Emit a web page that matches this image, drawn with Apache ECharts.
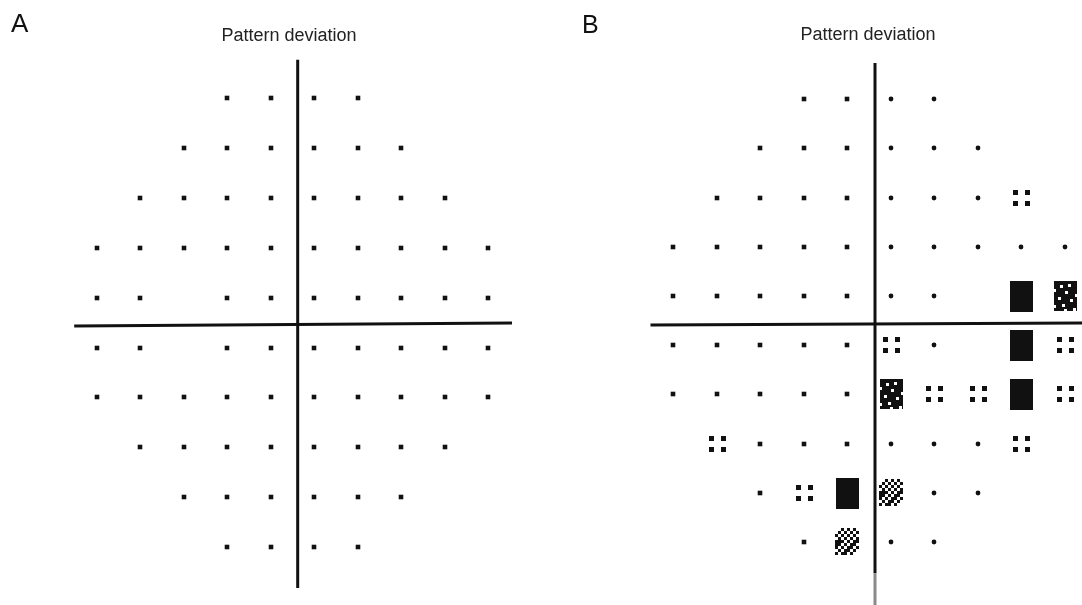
<!DOCTYPE html>
<html>
<head>
<meta charset="utf-8">
<script src="https://cdn.jsdelivr.net/npm/echarts@6/dist/echarts.min.js"></script>
<style>
  html, body { margin: 0; padding: 0; background: #fff; }
  #chart { width: 1082px; height: 605px; }
</style>
</head>
<body>
<div id="chart"></div>
<script>
// Test locations of the 10 x 10 grid, in degrees from fixation.
const X_DEG = [-27, -21, -15, -9, -3, 3, 9, 15, 21, 27];
const Y_DEG = [27, 21, 15, 9, 3, -3, -9, -15, -21, -27];

// Pattern deviation probability symbols per location, row by row (top to bottom).
// 0 = not significant, 1 = p < 5%, 2 = p < 2%, 3 = p < 1%, 4 = p < 0.5%, null = no test point.
const _ = null;
const ROWS_A = [
  [_, _, _, 0, 0, 0, 0, _, _, _],
  [_, _, 0, 0, 0, 0, 0, 0, _, _],
  [_, 0, 0, 0, 0, 0, 0, 0, 0, _],
  [0, 0, 0, 0, 0, 0, 0, 0, 0, 0],
  [0, 0, _, 0, 0, 0, 0, 0, 0, 0],
  [0, 0, _, 0, 0, 0, 0, 0, 0, 0],
  [0, 0, 0, 0, 0, 0, 0, 0, 0, 0],
  [_, 0, 0, 0, 0, 0, 0, 0, 0, _],
  [_, _, 0, 0, 0, 0, 0, 0, _, _],
  [_, _, _, 0, 0, 0, 0, _, _, _]
];
const ROWS_B = [
  [_, _, _, 0, 0, 0, 0, _, _, _],
  [_, _, 0, 0, 0, 0, 0, 0, _, _],
  [_, 0, 0, 0, 0, 0, 0, 0, 1, _],
  [0, 0, 0, 0, 0, 0, 0, 0, 0, 0],
  [0, 0, 0, 0, 0, 0, 0, _, 4, 3],
  [0, 0, 0, 0, 0, 1, 0, _, 4, 1],
  [0, 0, 0, 0, 0, 3, 1, 1, 4, 1],
  [_, 1, 0, 0, 0, 0, 0, 0, 1, _],
  [_, _, 0, 1, 4, 2, 0, 0, _, _],
  [_, _, _, 0, 2, 0, 0, _, _, _]
];

const PANEL_LETTERS = ['A', 'B'];
const PANEL_TITLES = ['Pattern deviation', 'Pattern deviation'];

// Meridian lines of each plot, in degrees: [x, y] end points.
const VERT_A = [[0.73, 31.6], [0.73, -31.9]];
const HORZ_A = [[-30.1, -0.42], [30.3, -0.06]];
const VERT_B = [[0.83, 31.4], [0.83, -30.8]];
const VERT_B_TAIL = [[0.83, -30.8], [0.83, -34.8]];
const HORZ_B = [[-30.1, -0.55], [30.6, -0.3]];

const FONT = '"Liberation Sans", Arial, Helvetica, sans-serif';
const INK = '#111';

// White gaps punched into the p < 1% block: [x, y] offsets in px from its top-left corner.
const DENSE_HOLES = [[6, 4], [14, 3], [11, 10], [4, 16], [16, 18], [8, 23],
  [-1, 8], [21, 13], [10, 28], [19, 27], [-1, 24]];

function toPoints(rows) {
  const out = [];
  rows.forEach((row, j) => row.forEach((v, i) => {
    if (v !== null) out.push([X_DEG[i], Y_DEG[j], v]);
  }));
  return out;
}

// Draws the grey-scale probability symbol for one location.
function makeRenderer(roundRightDots) {
  return function (params, api) {
    const xv = api.value(0);
    const code = api.value(2);
    const c = api.coord([xv, api.value(1)]);
    const cx = Math.round(c[0]), cy = Math.round(c[1]);
    const kids = [];
    const rect = (x0, y0, w, h, fill) => kids.push({
      type: 'rect', shape: { x: x0, y: y0, width: w, height: h }, style: { fill: fill || INK }
    });
    if (code === 0) {
      if (roundRightDots && xv > 0) {
        kids.push({ type: 'circle', shape: { cx: cx, cy: cy, r: 2.4 }, style: { fill: INK } });
      } else {
        rect(cx - 2.3, cy - 2.3, 4.6, 4.6);
      }
    } else if (code === 1) {
      [-6, 6].forEach(dx => [-6, 5].forEach(dy => rect(cx + dx - 2, cy + dy - 2, 5, 5)));
    } else if (code === 2) {
      const n = 8, m = 9, s = 3;
      const x0 = cx - 12, y0 = cy - 14;
      for (let i = 0; i < n; i++) {
        for (let j = 0; j < m; j++) {
          const band = Math.abs((i + 0.5) / n - (1 - (j + 0.5) / m));
          const edge = band > 0.3;
          if (band < 0.72 && (edge ? (i + j) % 3 !== 0 : (i + j) % 2 === 0)) rect(x0 + i * s, y0 + j * s, s, s);
        }
      }
    } else if (code === 3) {
      const x0 = cx - 11, y0 = cy - 15;
      rect(x0, y0, 23, 30);
      DENSE_HOLES.forEach(h => rect(x0 + h[0], y0 + h[1], 3, 3, '#fff'));
    } else if (code === 4) {
      rect(cx - 11, cy - 15, 23, 31);
    }
    return { type: 'group', children: kids };
  };
}

function lineSeries(data, grid, color) {
  return {
    type: 'line', xAxisIndex: grid, yAxisIndex: grid, data: data,
    symbol: 'none', silent: true, clip: false, animation: false,
    lineStyle: { color: color || INK, width: 3 }
  };
}

const chart = echarts.init(document.getElementById('chart'), null, { renderer: 'canvas' });

const axisBase = { type: 'value', show: false, splitLine: { show: false } };

chart.setOption({
  backgroundColor: '#fff',
  animation: false,
  grid: [
    { left: 74.9, top: 56.3, width: 435, height: 532.5 },
    { left: 651.2, top: 41.7, width: 428.3, height: 557.6 }
  ],
  xAxis: [
    Object.assign({ gridIndex: 0, min: -30, max: 30 }, axisBase),
    Object.assign({ gridIndex: 1, min: -30, max: 29 }, axisBase)
  ],
  yAxis: [
    Object.assign({ gridIndex: 0, min: -32, max: 32 }, axisBase),
    Object.assign({ gridIndex: 1, min: -34, max: 34 }, axisBase)
  ],
  graphic: [
    { type: 'text', x: 11, y: 25, style: { text: PANEL_LETTERS[0], font: '26px ' + FONT, fill: '#111', verticalAlign: 'middle' } },
    { type: 'text', x: 582, y: 26, style: { text: PANEL_LETTERS[1], font: '25px ' + FONT, fill: '#111', verticalAlign: 'middle' } },
    { type: 'text', x: 289, y: 36, style: { text: PANEL_TITLES[0], font: '18px ' + FONT, fill: '#222', align: 'center', verticalAlign: 'middle' } },
    { type: 'text', x: 868, y: 35, style: { text: PANEL_TITLES[1], font: '18px ' + FONT, fill: '#222', align: 'center', verticalAlign: 'middle' } }
  ],
  series: [
    lineSeries(VERT_A, 0),
    lineSeries(HORZ_A, 0),
    lineSeries(VERT_B, 1),
    lineSeries(VERT_B_TAIL, 1, '#8a8a8a'),
    lineSeries(HORZ_B, 1),
    {
      type: 'custom', xAxisIndex: 0, yAxisIndex: 0,
      dimensions: ['x', 'y', 'p'], encode: { x: 0, y: 1 },
      data: toPoints(ROWS_A), renderItem: makeRenderer(false), silent: true
    },
    {
      type: 'custom', xAxisIndex: 1, yAxisIndex: 1,
      dimensions: ['x', 'y', 'p'], encode: { x: 0, y: 1 },
      data: toPoints(ROWS_B), renderItem: makeRenderer(true), silent: true
    }
  ]
});
</script>
</body>
</html>
